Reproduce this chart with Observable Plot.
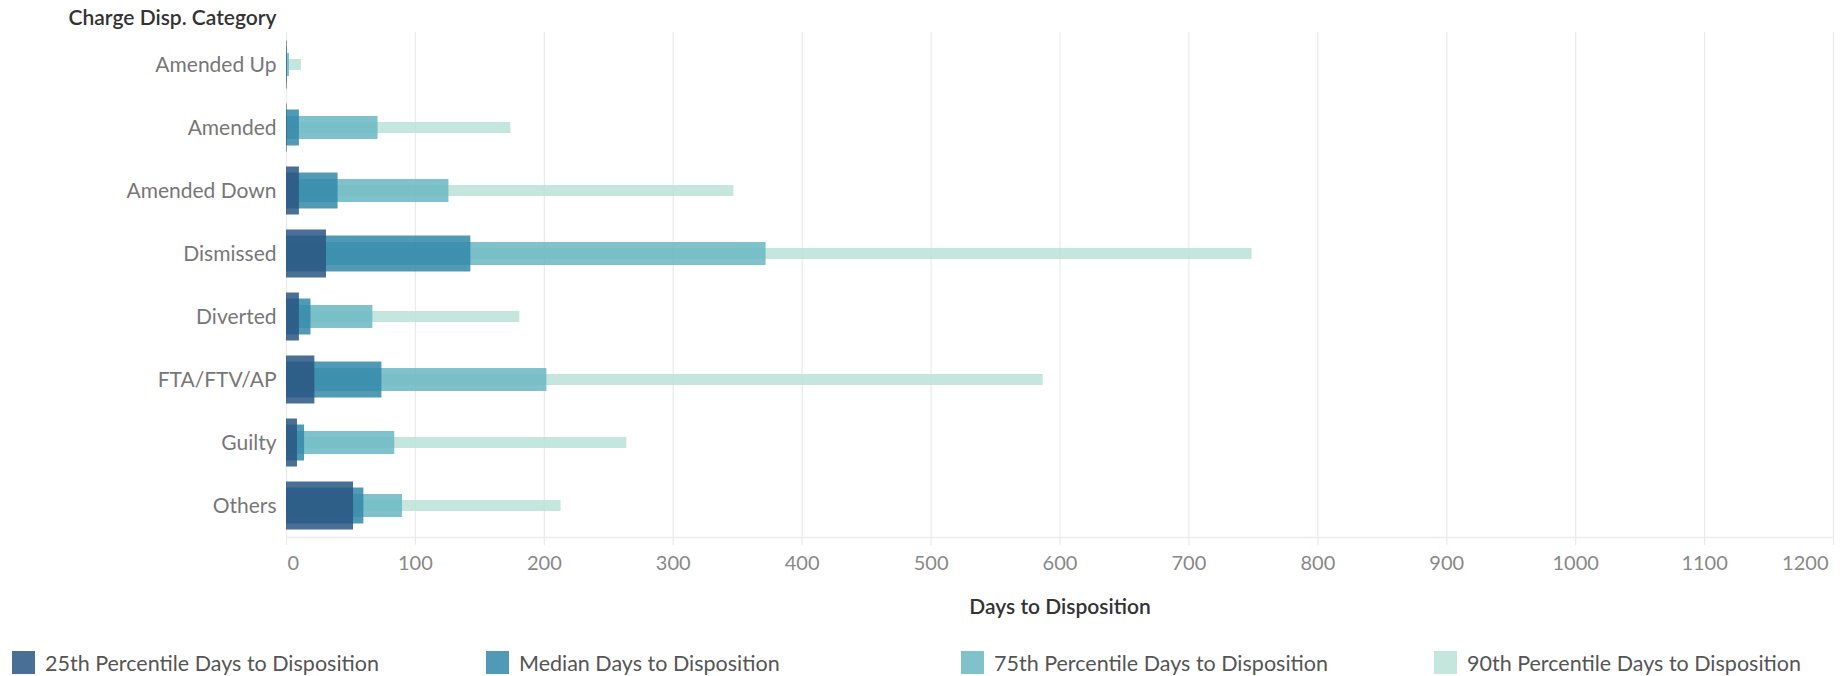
<!DOCTYPE html>
<html><head><meta charset="utf-8">
<script src="https://cdn.jsdelivr.net/npm/d3@7"></script>
<script src="https://cdn.jsdelivr.net/npm/@observablehq/plot@0.6"></script>
<style>
body{margin:0;background:#fff;font-family:Lato,sans-serif;}
#wrap{position:relative;width:1845px;height:676px;overflow:hidden;}
#legend{position:absolute;left:0;top:651px;width:1845px;height:24px;}
.item{position:absolute;top:0;height:23px;display:flex;align-items:center;}
.sw{width:23px;height:23px;margin-right:10px;flex:none;}
.lab{font-size:21.5px;color:#555;white-space:nowrap;}
</style></head><body>
<div id="wrap"><div id="chart"></div><div id="legend"></div></div>
<script>
const categories = ["Amended Up","Amended","Amended Down","Dismissed","Diverted","FTA/FTV/AP","Guilty","Others"];
const p25    = [0.5, 0.5, 10, 31, 10, 22, 8.5, 52];
const median = [0.5, 10, 40, 143, 19, 74, 14, 60];
const p75    = [2.3, 71, 126, 372, 67, 202, 84, 90];
const p90    = [11.6, 174, 347, 749, 181, 587, 264, 213];
const seriesNames = ["25th Percentile Days to Disposition","Median Days to Disposition","75th Percentile Days to Disposition","90th Percentile Days to Disposition"];
const seriesColors = ["#2a5683","#3288a9","#6ab7c3","#bbe2d6"];
const legendColors = ["#4a6f96","#519ab6","#80c2cc","#c4e6dc"];
const xTicks = [0,100,200,300,400,500,600,700,800,900,1000,1100,1200];

const rows = categories.map((c,i)=>({category:c, p25:p25[i], median:median[i], p75:p75[i], p90:p90[i]}));
const tickStyle = {tickSize:0, tickPadding:18, fontSize:20, fill:"#888", label:null, tickFormat:d=>String(d)};

const chart = Plot.plot({
  width:1845, height:640,
  marginLeft:286, marginRight:12, marginTop:32, marginBottom:103,
  x:{domain:[0,1200], label:null},
  y:{domain:categories, padding:0, label:null},
  style:{fontFamily:"Lato, sans-serif", background:"#fff"},
  marks:[
    Plot.ruleX(xTicks,{stroke:"#ebebeb", strokeWidth:1.3, insetBottom:-8}),
    Plot.frame({anchor:"bottom", stroke:"#ebebeb", strokeWidth:1.3}),
    Plot.barX(rows,{y:"category", x:"p90", fill:seriesColors[3], fillOpacity:0.85, insetTop:26, insetBottom:26}),
    Plot.barX(rows,{y:"category", x:"p75", fill:seriesColors[2], fillOpacity:0.85, insetTop:20, insetBottom:20}),
    Plot.barX(rows,{y:"category", x:"median", fill:seriesColors[1], fillOpacity:0.85, insetTop:13.5, insetBottom:13.5}),
    Plot.barX(rows,{y:"category", x:"p25", fill:seriesColors[0], fillOpacity:0.85, insetTop:7.5, insetBottom:7.5}),
    Plot.axisY({tickSize:0, tickPadding:10, fontSize:21, fill:"#777", label:null}),
    Plot.axisX(xTicks.slice(1,-1), tickStyle),
    Plot.axisX([xTicks[0]], {...tickStyle, textAnchor:"start", dx:1}),
    Plot.axisX([xTicks[xTicks.length-1]], {...tickStyle, textAnchor:"end", dx:-5}),
    Plot.text(["Charge Disp. Category"],{frameAnchor:"top-left", lineAnchor:"middle", textAnchor:"end", dx:-10, dy:-14, fontSize:21, fontWeight:600, fill:"#333"}),
    Plot.text(["Days to Disposition"],{frameAnchor:"bottom", lineAnchor:"middle", dy:70, fontSize:21, fontWeight:600, fill:"#333"})
  ]
});
document.getElementById("chart").appendChild(chart);

const lefts = [12, 486, 961, 1434];
const legend = document.getElementById("legend");
seriesNames.forEach((n,i)=>{
  const it = document.createElement("div");
  it.className = "item"; it.style.left = lefts[i]+"px";
  it.innerHTML = `<div class="sw" style="background:${legendColors[i]}"></div><span class="lab">${n}</span>`;
  legend.appendChild(it);
});
</script>
</body></html>
